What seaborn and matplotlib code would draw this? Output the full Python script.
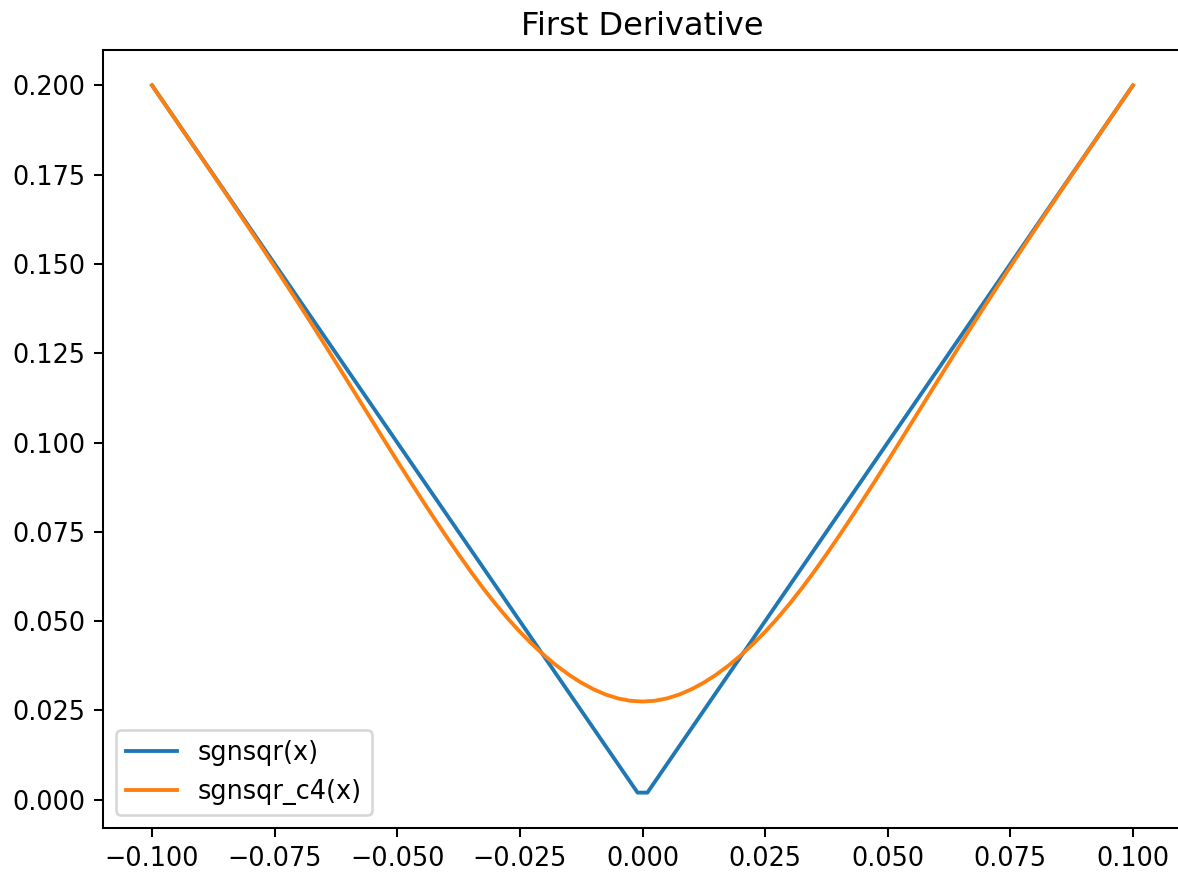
import pandas as pd
import matplotlib
matplotlib.use("Agg")
import matplotlib.pyplot as plt
import seaborn as sns

# sgnsqr(x) derivative: piecewise linear 2|x| with a flat sample step at the origin
sgnsqr_x = [-0.1, -0.001, 0.001, 0.1]
sgnsqr_y = [0.2, 0.002, 0.002, 0.2]

# sgnsqr_c4(x) derivative, sampled on the positive half (the curve is even)
c4_abs_x = [0.0, 0.0025, 0.005, 0.0075, 0.01, 0.0125, 0.015, 0.0175, 0.02,
            0.0225, 0.025, 0.0275, 0.03, 0.0325, 0.035, 0.0375, 0.04, 0.0425,
            0.045, 0.0475, 0.05, 0.0525, 0.055, 0.0575, 0.06, 0.0625, 0.065,
            0.0675, 0.07, 0.0725, 0.075, 0.0775, 0.08, 0.0825, 0.085, 0.0875,
            0.09, 0.0925, 0.095, 0.0975, 0.1]
c4_abs_y = [0.02750, 0.02772, 0.02838, 0.02946, 0.03095, 0.03280, 0.03500,
            0.03754, 0.04039, 0.04355, 0.04703, 0.05080, 0.05488, 0.05924,
            0.06387, 0.06871, 0.07371, 0.07886, 0.08410, 0.08943, 0.09484,
            0.10032, 0.10583, 0.11136, 0.11689, 0.12240, 0.12788, 0.13331,
            0.13868, 0.14397, 0.14923, 0.15443, 0.15958, 0.16470, 0.16979,
            0.17485, 0.17989, 0.18492, 0.18995, 0.19497, 0.20000]

c4_x = [-v for v in c4_abs_x[:0:-1]] + c4_abs_x
c4_y = c4_abs_y[:0:-1] + c4_abs_y

df = pd.concat([
    pd.DataFrame({"x": sgnsqr_x, "y": sgnsqr_y, "series": "sgnsqr(x)"}),
    pd.DataFrame({"x": c4_x, "y": c4_y, "series": "sgnsqr_c4(x)"}),
], ignore_index=True)

W, H, DPI = 1178, 877, 184
fig = plt.figure(figsize=(W / DPI, H / DPI), dpi=DPI)
# the right edge of the axes box runs just past the canvas edge
ax = fig.add_axes([103 / W, 1 - 828 / H, (1182 - 103) / W, (828 - 50) / H])

sns.lineplot(data=df, x="x", y="y", hue="series", estimator=None, sort=False,
             palette=["tab:blue", "tab:orange"], ax=ax)

ax.set_title("First Derivative", fontsize=12.5)
ax.set_xlabel("")
ax.set_ylabel("")
ax.set_xticks([-0.1, -0.075, -0.05, -0.025, 0.0, 0.025, 0.05, 0.075, 0.1])
ax.set_yticks([0.0, 0.025, 0.05, 0.075, 0.1, 0.125, 0.15, 0.175, 0.2])
ax.legend(title=None, loc="lower left")

fig.savefig("out.png", dpi=DPI)
